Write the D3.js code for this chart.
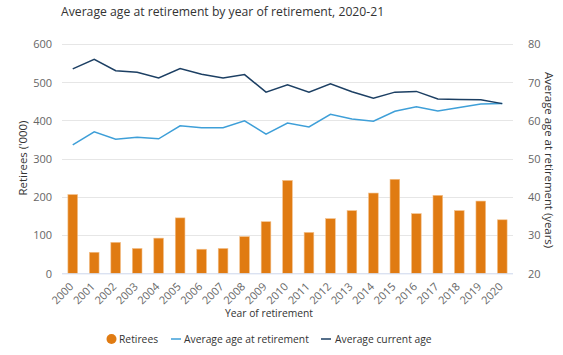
<!DOCTYPE html>
<html><head><meta charset="utf-8">
<script src="https://cdn.jsdelivr.net/npm/d3@7"></script>
<style>
body{margin:0;background:#fff;}
svg{font-family:"Open Sans",sans-serif;}
</style></head>
<body><svg id="c" width="563" height="355"></svg>
<script>
const years = ["2000","2001","2002","2003","2004","2005","2006","2007","2008","2009","2010","2011","2012","2013","2014","2015","2016","2017","2018","2019","2020"];
const retirees = [206,55,81,65,92,145,63,65,96,135,243,107,143,164,210,246,156,204,164,189,140];
const ageAtRetirement = [53.6,57.0,55.1,55.6,55.2,58.6,58.1,58.1,59.9,56.4,59.3,58.3,61.6,60.4,59.8,62.4,63.6,62.5,63.4,64.3,64.4];
const currentAge = [73.5,76.0,73.0,72.6,71.1,73.6,72.1,71.1,72.0,67.4,69.3,67.4,69.6,67.5,65.8,67.4,67.6,65.6,65.5,65.4,64.4];
const leftTicks = [0,100,200,300,400,500,600];
const rightTicks = [20,30,40,50,60,70,80];

const svg = d3.select("#c");
const L=62, R=513, T=44, B=273.3;
const x = d3.scaleBand().domain(years).range([L,R]).paddingInner(0.55).paddingOuter(0.275);
const xc = d => x(d)+x.bandwidth()/2;
const yL = d3.scaleLinear().domain([0,600]).range([B,T]);
const yR = d3.scaleLinear().domain([20,80]).range([B,T]);

svg.append("text").attr("x",61).attr("y",15.5).attr("fill","#333").attr("font-size",12.2).text("Average age at retirement by year of retirement, 2020-21");

// grid
svg.append("g").selectAll("line").data(leftTicks.slice(1)).join("line")
  .attr("x1",L).attr("x2",R).attr("y1",d=>Math.round(yL(d))+0.5).attr("y2",d=>Math.round(yL(d))+0.5)
  .attr("stroke","#e6e6e6");

// left axis
const gl = svg.append("g").attr("transform",`translate(${L-10},0)`).call(d3.axisLeft(yL).tickValues(leftTicks).tickSize(0).tickPadding(0));
gl.select(".domain").remove();
gl.selectAll("text").attr("fill","#666").attr("font-size",11).attr("font-family","Open Sans").attr("dy","0.35em");

const gr = svg.append("g").attr("transform",`translate(${R+15},0)`).call(d3.axisRight(yR).tickValues(rightTicks).tickSize(0).tickPadding(0));
gr.select(".domain").remove();
gr.selectAll("text").attr("fill","#666").attr("font-size",11).attr("font-family","Open Sans").attr("dy","0.35em");

// bars
svg.append("g").selectAll("rect").data(years).join("rect")
  .attr("x",d=>x(d)).attr("width",x.bandwidth())
  .attr("y",(d,i)=>yL(retirees[i])).attr("height",(d,i)=>B-yL(retirees[i]))
  .attr("fill","#E07B12").attr("stroke","#f3c08a").attr("stroke-width",0.6);

// x axis line
svg.append("line").attr("x1",L).attr("x2",R).attr("y1",B+0.5).attr("y2",B+0.5).attr("stroke","#ccd6eb");

// x labels
const gx = svg.append("g").attr("transform",`translate(0,${B})`).call(d3.axisBottom(x).tickSize(0).tickPadding(0));
gx.select(".domain").remove();
gx.selectAll("text").attr("fill","#666").attr("font-size",11).attr("font-family","Open Sans")
  .attr("text-anchor","end").attr("dy",0).attr("y",0)
  .attr("transform","translate(1.5,14) rotate(-45)");

// lines
const line = arr => d3.line().x((d,i)=>xc(years[i])).y(d=>yR(d))(arr);
svg.append("path").attr("d",line(ageAtRetirement)).attr("fill","none").attr("stroke","#3E9FD8").attr("stroke-width",1.5);
svg.append("path").attr("d",line(currentAge)).attr("fill","none").attr("stroke","#1C3F63").attr("stroke-width",1.5);

// axis titles
svg.append("text").attr("transform",`translate(27,158) rotate(-90)`).attr("text-anchor","middle")
  .attr("fill","#333").attr("font-size",11.4).text("Retirees ('000)");
svg.append("text").attr("transform",`translate(544.5,160) rotate(90)`).attr("text-anchor","middle")
  .attr("fill","#333").attr("font-size",11.4).text("Average age at retirement (years)");
svg.append("text").attr("x",269).attr("y",316.5).attr("text-anchor","middle")
  .attr("fill","#333").attr("font-size",10.3).text("Year of retirement");

// legend
const lg = svg.append("g").attr("font-size",10.3).attr("fill","#333");
lg.append("circle").attr("cx",111.5).attr("cy",339).attr("r",5).attr("fill","#E07B12");
lg.append("text").attr("x",119).attr("y",342.7).attr("fill","#333").text("Retirees");
lg.append("line").attr("x1",171).attr("x2",181).attr("y1",339).attr("y2",339).attr("stroke","#3E9FD8").attr("stroke-width",1.5);
lg.append("text").attr("x",184).attr("y",342.7).attr("fill","#333").text("Average age at retirement");
lg.append("line").attr("x1",321).attr("x2",331).attr("y1",339).attr("y2",339).attr("stroke","#1C3F63").attr("stroke-width",1.5);
lg.append("text").attr("x",335).attr("y",342.7).attr("fill","#333").text("Average current age");
</script></body></html>
